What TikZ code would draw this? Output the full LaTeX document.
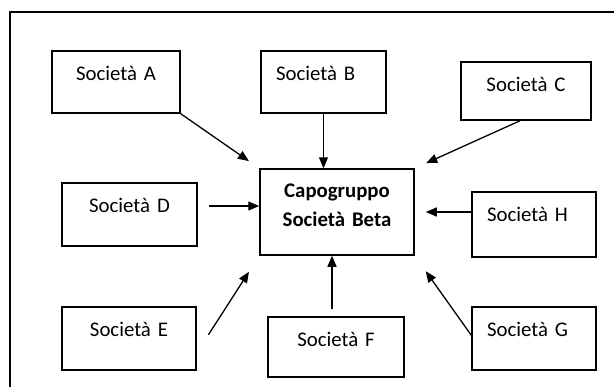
\documentclass[tikz,border=0pt]{standalone}
\usepackage{fontspec}
\setmainfont{Carlito}
\usetikzlibrary{arrows.meta}

\begin{document}
\begin{tikzpicture}[x=0.5pt,y=-0.5pt,
    soc/.style 2 args={draw,line width=0.75pt,inner sep=0pt,text width=#1,
        text height=14.5pt,text depth=#2,align=center,
        font=\fontsize{10.4pt}{14.5pt}\selectfont},
    socl/.style 2 args={soc={#1}{#2},inner xsep=7.5pt,align=left},
    arr/.style={-{Triangle[length=5.5pt,width=4.5pt]},line width=0.65pt}]
    \useasboundingbox (0,0) rectangle (614,387);
    \draw[line width=1pt] (10,387) -- (10,12) -- (614,12);
    \node[soc={64pt}{16.5pt}] (A) at (116,82) {Società A};
    \node[socl={47.5pt}{16.5pt}] (B) at (323.5,82) {Società B};
    \node[soc={65pt}{14.5pt}] (C) at (526,91) {Società C};
    \node[soc={67.5pt}{17pt}] (D) at (129.5,214.5) {Società D};
    \node[soc={77pt}{29pt},text height=14pt,
        font=\fontsize{10.4pt}{14.5pt}\selectfont\bfseries] (Beta) at (337,212) {Capogruppo\\Società Beta};
    \node[socl={47pt}{18pt}] (H) at (534,224.5) {Società H};
    \node[soc={67pt}{17pt}] (E) at (129,338.5) {Società E};
    \node[soc={68pt}{15.5pt}] (F) at (336,347) {Società F};
    \node[socl={47pt}{17pt}] (G) at (534,338.5) {Società G};
    \coordinate (d) at ([yshift=4.25pt]D.east);
    \coordinate (h) at ([yshift=6.25pt]H.west);
    \coordinate (f) at ([xshift=-2pt]F.north);
    \draw[arr,shorten >=6.3pt] (A.south east) -- (Beta.north west);
    \draw[arr] (B.south) -- (B.south |- Beta.north);
    \draw[arr,shorten >=6.3pt] ([xshift=-3pt]C.south) -- (Beta.north east);
    \draw[arr,shorten <=5.5pt] (d) -- (d -| Beta.west);
    \draw[arr,shorten >=5.5pt] (h) -- (h -| Beta.east);
    \draw[arr,shorten <=10.8pt,shorten >=9.5pt] (E.-12) -- (Beta.south west);
    \draw[arr,shorten <=3.5pt] (f) -- (f |- Beta.south);
    \draw[arr,shorten >=9.5pt] (G.177) -- (Beta.south east);
\end{tikzpicture}
\end{document}
